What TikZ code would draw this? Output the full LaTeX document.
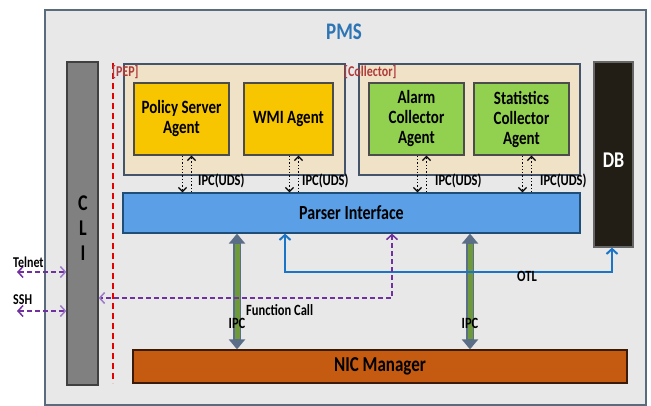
\documentclass[tikz,border=0pt]{standalone}
\usepackage{fontspec}
\usepackage{graphicx}
\setmainfont{Carlito}
\usetikzlibrary{arrows.meta}
\definecolor{pmsfill}{HTML}{E8E8E8}
\definecolor{pmsborder}{HTML}{5A6B7D}
\definecolor{tanfill}{HTML}{EFE2C6}
\definecolor{tanborder}{HTML}{44546A}
\definecolor{yel}{HTML}{F7C600}
\definecolor{grn}{HTML}{92D050}
\definecolor{blu}{HTML}{5B9FE6}
\definecolor{blub}{HTML}{1F4E79}
\definecolor{org}{HTML}{C55A11}
\definecolor{dbfill}{HTML}{221E16}
\definecolor{cligray}{HTML}{808080}
\definecolor{pur}{HTML}{7030A0}
\definecolor{purl}{HTML}{9E7BC8}
\definecolor{otlc}{HTML}{1A75C8}
\definecolor{ipcg}{HTML}{6E9A3C}
\definecolor{ipch}{HTML}{5A6E88}
\definecolor{pmsblue}{HTML}{2E75B6}
\definecolor{tagred}{HTML}{B03A3A}
\newcommand\tl[1]{\scalebox{1}[1.25]{#1}}
\begin{document}
\begin{tikzpicture}[x=1pt,y=-1pt,
  every node/.style={inner sep=0pt},
  blk/.style={draw=#1,line width=1.3pt,minimum width=0pt,minimum height=0pt},
  agent/.style={blk=black!70,align=center,font=\fontsize{15}{20}\selectfont\bfseries},
  tag/.style={anchor=west,text=tagred,font=\fontsize{12}{13}\selectfont\bfseries},
  lbl/.style={font=\fontsize{12.5}{14}\selectfont\bfseries},
  uds/.style={black,line width=1.3pt,dotted,-{Straight Barb[length=4pt,width=8pt,line width=1.3pt]}},
  ipcout/.style={ipch,line width=8pt,{Triangle[length=10pt,width=16pt]}-{Triangle[length=10pt,width=16pt]}},
  ipcin/.style={ipcg,line width=5pt,shorten <=10pt,shorten >=10pt},
  purarrow/.style={pur,line width=1.5pt,dash pattern=on 5pt off 3pt,{Straight Barb[length=5pt,width=11pt,line width=1.5pt]}-{Straight Barb[length=5pt,width=11pt,line width=1.5pt,color=purl]}},
  otl/.style={otlc,line width=2pt,{Straight Barb[length=5pt,width=11pt,line width=2pt]}-{Straight Barb[length=5pt,width=11pt,line width=2pt]}}
]
\useasboundingbox (0,0) rectangle (651,406);
% PMS frame
\node[blk=pmsborder,fill=pmsfill,minimum width=601pt,minimum height=395pt] (pms) at (345.5,207.5) {};
\node[text=pmsblue,font=\fontsize{19}{22}\selectfont\bfseries] (pmslabel) at (344,32) {\tl{PMS}};
% CLI
\node[blk=black!75,fill=cligray,minimum width=31pt,minimum height=323pt] (cli) at (82.5,223.5) {};
\node[align=center,font=\fontsize{18}{25}\selectfont\bfseries] (clitext) at (83,228) {\tl{C}\\\tl{L}\\\tl{I}};
% red dashed separator
\coordinate (sepT) at (113,63);
\coordinate (sepB) at (113,383);
\draw[red!90!black,line width=1.5pt,dash pattern=on 6pt off 4pt] (sepT) -- (sepB);
% groups
\node[blk=tanborder,fill=tanfill,minimum width=221pt,minimum height=111pt] (pep) at (234.5,119.5) {};
\node[blk=tanborder,fill=tanfill,minimum width=221pt,minimum height=111pt] (coll) at (469.5,119.5) {};
\node[tag] (peptag) at (112,72) {\tl{[PEP]}};
\node[tag] (colltag) at (344,72) {\tl{[Collector]}};
% agents
\node[agent,fill=yel,minimum width=95pt,minimum height=72pt] (policy) at (181.5,119) {\tl{Policy Server}\\\tl{Agent}};
\node[agent,fill=yel,minimum width=89pt,minimum height=72pt] (wmi) at (288.5,119) {\tl{WMI Agent}};
\node[agent,fill=grn,minimum width=95pt,minimum height=72pt] (alarm) at (416.5,119) {\tl{Alarm}\\\tl{Collector}\\\tl{Agent}};
\node[agent,fill=grn,minimum width=95pt,minimum height=72pt] (stats) at (521.5,119) {\tl{Statistics}\\\tl{Collector}\\\tl{Agent}};
% DB
\node[blk=black!60,fill=dbfill,minimum width=39pt,minimum height=185pt] (db) at (613.5,154.5) {};
\node[text=white,font=\fontsize{18}{20}\selectfont\bfseries] (dbtext) at (613.5,160) {\tl{DB}};
% parser & NIC
\node[blk=blub,fill=blu,minimum width=457pt,minimum height=40pt,font=\fontsize{16}{18}\selectfont\bfseries] (parser) at (351.5,213) {\tl{Parser Interface}};
\node[blk=black!70!org,fill=org,minimum width=494pt,minimum height=33pt,font=\fontsize{17}{19}\selectfont\bfseries] (nic) at (380,366.5) {\tl{NIC Manager}};
% IPC(UDS) arrows
\foreach \a in {policy,wmi,alarm,stats}{
  \draw[uds] ([xshift=1pt]\a.south) -- ([xshift=1pt]\a.south |- parser.north);
  \draw[uds] ([xshift=10pt]\a.south |- parser.north) -- ([xshift=10pt]\a.south);
}
\node[lbl,anchor=west] (u1) at (198,181) {\tl{IPC(UDS)}};
\node[lbl,anchor=west] (u2) at (302,181) {\tl{IPC(UDS)}};
\node[lbl,anchor=west] (u3) at (435,181) {\tl{IPC(UDS)}};
\node[lbl,anchor=west] (u4) at (540,181) {\tl{IPC(UDS)}};
% IPC thick arrows
\coordinate (ipcL) at (237,300);
\coordinate (ipcR) at (470,300);
\draw[ipcout] (parser.south -| ipcL) -- (nic.north -| ipcL);
\draw[ipcin] (parser.south -| ipcL) -- (nic.north -| ipcL);
\draw[ipcout] (parser.south -| ipcR) -- (nic.north -| ipcR);
\draw[ipcin] (parser.south -| ipcR) -- (nic.north -| ipcR);
\node[lbl] (ipcLt) at (237,323) {\tl{IPC}};
\node[lbl] (ipcRt) at (470,323) {\tl{IPC}};
% OTL
\coordinate (otlA) at (285,272);
\coordinate (otlB) at (612,272);
\draw[otl] (parser.south -| otlA) |- (otlB) -- (db.south -| otlB);
\node[lbl] (otltext) at (527,276) {\tl{OTL}};
% Function Call
\coordinate (fc) at (392,298);
\draw[purarrow] (parser.south -| fc) |- (cli.east |- fc);
\node[lbl,anchor=west] (fctext) at (246,310) {\tl{Function Call}};
% Telnet / SSH
\coordinate (tel) at (17,272);
\coordinate (ssh) at (17,311);
\draw[purarrow] (tel) -- (cli.west |- tel);
\draw[purarrow] (ssh) -- (cli.west |- ssh);
\node[lbl,anchor=west,font=\fontsize{12}{14}\selectfont\bfseries] (teltext) at (13,262) {\tl{Telnet}};
\node[lbl,anchor=west,font=\fontsize{12}{14}\selectfont\bfseries] (sshtext) at (13,300) {\tl{SSH}};
\end{tikzpicture}
\end{document}
